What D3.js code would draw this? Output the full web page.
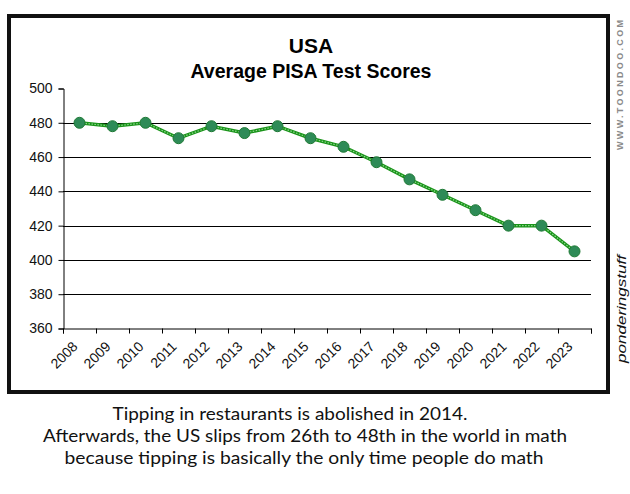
<!DOCTYPE html>
<html>
<head>
<meta charset="utf-8">
<script src="https://cdn.jsdelivr.net/npm/d3@7"></script>
<style>
  body { margin: 0; background: #fff; }
  svg text { font-family: Arial, "Liberation Sans", sans-serif; }
  svg text.caption { font-family: Lato, "Open Sans", sans-serif; }
</style>
</head>
<body>
<div id="chart"></div>
<script>
// data
var years = ["2008", "2009", "2010", "2011", "2012", "2013", "2014", "2015",
             "2016", "2017", "2018", "2019", "2020", "2021", "2022", "2023"];
var scores = [480, 478, 480, 471, 478, 474, 478, 471,
              466, 457, 447, 438, 429, 420, 420, 405];
var yTicks = [360, 380, 400, 420, 440, 460, 480, 500];
var captionLines = [
  "Tipping in restaurants is abolished in 2014.",
  "Afterwards, the US slips from 26th to 48th in the world in math",
  "because tipping is basically the only time people do math"
];

var svgWidth = 630;
var svgHeight = 494;

var svg = d3.select("#chart")
  .append("svg")
  .attr("width", svgWidth)
  .attr("height", svgHeight);

// frame
svg.append("rect")
  .attr("x", 9).attr("y", 16)
  .attr("width", 599).attr("height", 376)
  .attr("fill", "none")
  .attr("stroke", "#111")
  .attr("stroke-width", 4);

var xScale = d3.scaleBand()
  .domain(years)
  .range([63, 591])
  .padding(0);

var yScale = d3.scaleLinear()
  .domain([360, 500])
  .range([328.5, 88.5]);

// gridlines
svg.append("g")
  .selectAll("line")
  .data(yTicks.filter(d => d > 360 && d < 500))
  .enter()
  .append("line")
  .attr("x1", 63)
  .attr("x2", 591)
  .attr("y1", d => Math.round(yScale(d)) + 0.5)
  .attr("y2", d => Math.round(yScale(d)) + 0.5)
  .attr("stroke", "#000")
  .attr("stroke-width", 1);

// y axis
var leftAxis = d3.axisLeft(yScale)
  .tickValues(yTicks)
  .tickSize(5)
  .tickPadding(6);

var yAxisG = svg.append("g")
  .attr("transform", "translate(63.5, 0)")
  .call(leftAxis);
yAxisG.select(".domain").attr("stroke", "#000");
yAxisG.selectAll("text")
  .attr("font-size", "14px")
  .attr("fill", "#111");

// x axis
var bottomAxis = d3.axisBottom(xScale)
  .tickSize(5)
  .tickFormat("");

var xAxisG = svg.append("g")
  .attr("transform", `translate(0, ${yScale(360)})`)
  .call(bottomAxis);
xAxisG.select(".domain").attr("stroke", "#000");
// ticks on band edges instead of centres
xAxisG.selectAll(".tick").remove();
xAxisG.selectAll("line.edge")
  .data(years.concat(["end"]))
  .enter()
  .append("line")
  .attr("class", "edge")
  .attr("x1", (d, i) => Math.round(xScale.range()[0] + i * xScale.step()) + 0.5)
  .attr("x2", (d, i) => Math.round(xScale.range()[0] + i * xScale.step()) + 0.5)
  .attr("y1", 0)
  .attr("y2", 5)
  .attr("stroke", "#000");

svg.append("g")
  .selectAll("text")
  .data(years)
  .enter()
  .append("text")
  .attr("transform", d => `translate(${xScale(d) + xScale.bandwidth() / 2 - 8}, ${yScale(360) + 12}) rotate(-45)`)
  .attr("text-anchor", "end")
  .attr("dy", "0.7em")
  .attr("font-size", "14px")
  .attr("fill", "#111")
  .text(d => d);

// line
var line = d3.line()
  .x((d, i) => xScale(years[i]) + xScale.bandwidth() / 2)
  .y(d => yScale(d));

svg.append("path")
  .datum(scores)
  .attr("d", line)
  .attr("fill", "none")
  .attr("stroke", "#1a941a")
  .attr("stroke-width", 3.5);

svg.append("path")
  .datum(scores)
  .attr("d", line)
  .attr("fill", "none")
  .attr("stroke", "#8fd98f")
  .attr("stroke-width", 1.2)
  .attr("stroke-dasharray", "1.5,1.5");

svg.append("g")
  .selectAll("circle")
  .data(scores)
  .enter()
  .append("circle")
  .attr("cx", (d, i) => xScale(years[i]) + xScale.bandwidth() / 2)
  .attr("cy", d => yScale(d))
  .attr("r", 5.5)
  .attr("fill", "#2e8b57")
  .attr("stroke", "#1f7a35")
  .attr("stroke-width", 1);

// titles
svg.append("text")
  .attr("x", 311).attr("y", 53)
  .attr("text-anchor", "middle")
  .attr("font-size", "21px")
  .attr("font-weight", "bold")
  .attr("fill", "#000")
  .text("USA");

svg.append("text")
  .attr("x", 311).attr("y", 78)
  .attr("text-anchor", "middle")
  .attr("font-size", "19.5px")
  .attr("font-weight", "bold")
  .attr("fill", "#000")
  .text("Average PISA Test Scores");

// watermarks
svg.append("text")
  .attr("transform", "translate(623, 150) rotate(-90)")
  .attr("font-size", "9px")
  .attr("font-weight", "bold")
  .attr("fill", "#8a8a8a")
  .attr("textLength", 130)
  .attr("lengthAdjust", "spacing")
  .text("WWW.TOONDOO.COM");

svg.append("text")
  .attr("transform", "translate(626, 363) rotate(-90)")
  .attr("font-size", "13px")
  .attr("font-style", "italic")
  .attr("fill", "#111")
  .attr("textLength", 108)
  .attr("lengthAdjust", "spacingAndGlyphs")
  .text("ponderingstuff");

// caption
var captionX = [290, 305, 304];
var captionW = [355, 524, 479];
svg.append("g")
  .selectAll("text")
  .data(captionLines)
  .enter()
  .append("text")
  .attr("class", "caption")
  .attr("x", (d, i) => captionX[i])
  .attr("y", (d, i) => 420 + i * 22)
  .attr("text-anchor", "middle")
  .attr("font-size", "18px")
  .attr("fill", "#111")
  .attr("textLength", (d, i) => captionW[i])
  .attr("lengthAdjust", "spacingAndGlyphs")
  .text(d => d);
</script>
</body>
</html>
